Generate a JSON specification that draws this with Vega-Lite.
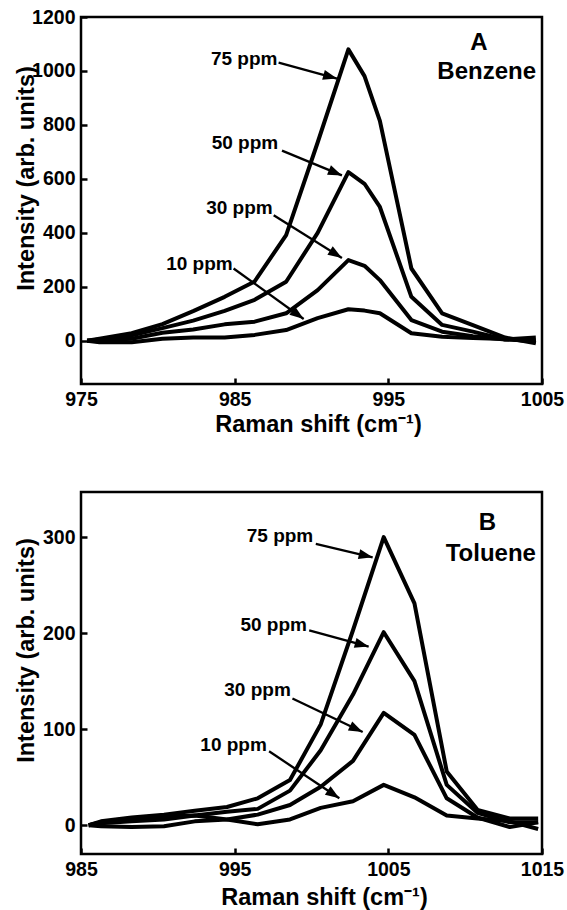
{
  "$schema": "https://vega.github.io/schema/vega-lite/v6.json",
  "background": "white",
  "padding": {"left": 12, "top": 5, "right": 0, "bottom": 0},
  "spacing": 53,
  "config": {
    "view": {"stroke": "black", "strokeWidth": 2.5},
    "font": "Liberation Sans",
    "axis": {
      "domain": false, "grid": false, "ticks": true, "format": "d",
      "tickColor": "black", "tickWidth": 2.5, "tickSize": -6,
      "labelColor": "black", "labelFont": "Liberation Sans", "labelFontSize": 19.5, "labelFontWeight": "bold",
      "titleColor": "black", "titleFont": "Liberation Sans", "titleFontSize": 23.5, "titleFontWeight": "bold"
    },
    "text": {"font": "Liberation Sans", "fontWeight": "bold", "color": "black"}
  },
  "datasets": {
    "benzene": [
      {"shift": 975.4, "i": 0, "conc": "75 ppm"}, {"shift": 976.2, "i": 8, "conc": "75 ppm"}, {"shift": 978.3, "i": 28, "conc": "75 ppm"}, {"shift": 980.3, "i": 62, "conc": "75 ppm"}, {"shift": 982.3, "i": 110, "conc": "75 ppm"}, {"shift": 984.35, "i": 163, "conc": "75 ppm"}, {"shift": 986.3, "i": 220, "conc": "75 ppm"}, {"shift": 988.35, "i": 392, "conc": "75 ppm"}, {"shift": 990.4, "i": 735, "conc": "75 ppm"}, {"shift": 992.4, "i": 1080, "conc": "75 ppm"}, {"shift": 993.45, "i": 981, "conc": "75 ppm"}, {"shift": 994.45, "i": 815, "conc": "75 ppm"}, {"shift": 996.5, "i": 268, "conc": "75 ppm"}, {"shift": 998.5, "i": 102, "conc": "75 ppm"}, {"shift": 1000.5, "i": 58, "conc": "75 ppm"}, {"shift": 1002.6, "i": 12, "conc": "75 ppm"}, {"shift": 1004.6, "i": -9, "conc": "75 ppm"},
      {"shift": 975.4, "i": 0, "conc": "50 ppm"}, {"shift": 976.2, "i": 5, "conc": "50 ppm"}, {"shift": 978.3, "i": 20, "conc": "50 ppm"}, {"shift": 980.3, "i": 47, "conc": "50 ppm"}, {"shift": 982.3, "i": 75, "conc": "50 ppm"}, {"shift": 984.35, "i": 111, "conc": "50 ppm"}, {"shift": 986.3, "i": 152, "conc": "50 ppm"}, {"shift": 988.35, "i": 219, "conc": "50 ppm"}, {"shift": 990.4, "i": 400, "conc": "50 ppm"}, {"shift": 992.4, "i": 625, "conc": "50 ppm"}, {"shift": 993.45, "i": 582, "conc": "50 ppm"}, {"shift": 994.45, "i": 496, "conc": "50 ppm"}, {"shift": 996.5, "i": 163, "conc": "50 ppm"}, {"shift": 998.5, "i": 59, "conc": "50 ppm"}, {"shift": 1000.5, "i": 34, "conc": "50 ppm"}, {"shift": 1002.6, "i": 5, "conc": "50 ppm"}, {"shift": 1004.6, "i": 12, "conc": "50 ppm"},
      {"shift": 975.4, "i": 0, "conc": "30 ppm"}, {"shift": 976.2, "i": 2, "conc": "30 ppm"}, {"shift": 978.3, "i": 8, "conc": "30 ppm"}, {"shift": 980.3, "i": 30, "conc": "30 ppm"}, {"shift": 982.3, "i": 42, "conc": "30 ppm"}, {"shift": 984.35, "i": 61, "conc": "30 ppm"}, {"shift": 986.3, "i": 71, "conc": "30 ppm"}, {"shift": 988.35, "i": 102, "conc": "30 ppm"}, {"shift": 990.4, "i": 188, "conc": "30 ppm"}, {"shift": 992.4, "i": 299, "conc": "30 ppm"}, {"shift": 993.45, "i": 278, "conc": "30 ppm"}, {"shift": 994.45, "i": 225, "conc": "30 ppm"}, {"shift": 996.5, "i": 77, "conc": "30 ppm"}, {"shift": 998.5, "i": 34, "conc": "30 ppm"}, {"shift": 1000.5, "i": 17, "conc": "30 ppm"}, {"shift": 1002.6, "i": 5, "conc": "30 ppm"}, {"shift": 1004.6, "i": 0, "conc": "30 ppm"},
      {"shift": 975.4, "i": 0, "conc": "10 ppm"}, {"shift": 976.2, "i": -5, "conc": "10 ppm"}, {"shift": 978.3, "i": -5, "conc": "10 ppm"}, {"shift": 980.3, "i": 8, "conc": "10 ppm"}, {"shift": 982.3, "i": 12, "conc": "10 ppm"}, {"shift": 984.35, "i": 12, "conc": "10 ppm"}, {"shift": 986.3, "i": 22, "conc": "10 ppm"}, {"shift": 988.35, "i": 40, "conc": "10 ppm"}, {"shift": 990.4, "i": 84, "conc": "10 ppm"}, {"shift": 992.4, "i": 117, "conc": "10 ppm"}, {"shift": 993.45, "i": 112, "conc": "10 ppm"}, {"shift": 994.45, "i": 102, "conc": "10 ppm"}, {"shift": 996.5, "i": 28, "conc": "10 ppm"}, {"shift": 998.5, "i": 15, "conc": "10 ppm"}, {"shift": 1000.5, "i": 10, "conc": "10 ppm"}, {"shift": 1002.6, "i": 7, "conc": "10 ppm"}, {"shift": 1004.6, "i": -3, "conc": "10 ppm"}
    ],
    "toluene": [
      {"shift": 985.5, "i": 0, "conc": "75 ppm"}, {"shift": 986.3, "i": 4, "conc": "75 ppm"}, {"shift": 988.3, "i": 8, "conc": "75 ppm"}, {"shift": 990.4, "i": 11, "conc": "75 ppm"}, {"shift": 992.4, "i": 15, "conc": "75 ppm"}, {"shift": 994.5, "i": 19, "conc": "75 ppm"}, {"shift": 996.5, "i": 28, "conc": "75 ppm"}, {"shift": 998.6, "i": 47, "conc": "75 ppm"}, {"shift": 1000.6, "i": 105, "conc": "75 ppm"}, {"shift": 1002.7, "i": 203, "conc": "75 ppm"}, {"shift": 1004.7, "i": 300, "conc": "75 ppm"}, {"shift": 1006.7, "i": 231, "conc": "75 ppm"}, {"shift": 1008.8, "i": 56, "conc": "75 ppm"}, {"shift": 1010.8, "i": 16, "conc": "75 ppm"}, {"shift": 1012.9, "i": 7, "conc": "75 ppm"}, {"shift": 1014.75, "i": 7, "conc": "75 ppm"},
      {"shift": 985.5, "i": 0, "conc": "50 ppm"}, {"shift": 986.3, "i": 2, "conc": "50 ppm"}, {"shift": 988.3, "i": 4, "conc": "50 ppm"}, {"shift": 990.4, "i": 6, "conc": "50 ppm"}, {"shift": 992.4, "i": 10, "conc": "50 ppm"}, {"shift": 994.5, "i": 14, "conc": "50 ppm"}, {"shift": 996.5, "i": 17, "conc": "50 ppm"}, {"shift": 998.6, "i": 36, "conc": "50 ppm"}, {"shift": 1000.6, "i": 78, "conc": "50 ppm"}, {"shift": 1002.7, "i": 136, "conc": "50 ppm"}, {"shift": 1004.7, "i": 201, "conc": "50 ppm"}, {"shift": 1006.7, "i": 150, "conc": "50 ppm"}, {"shift": 1008.8, "i": 42, "conc": "50 ppm"}, {"shift": 1010.8, "i": 13, "conc": "50 ppm"}, {"shift": 1012.9, "i": 3, "conc": "50 ppm"}, {"shift": 1014.75, "i": 3, "conc": "50 ppm"},
      {"shift": 985.5, "i": 0, "conc": "30 ppm"}, {"shift": 986.3, "i": -1, "conc": "30 ppm"}, {"shift": 988.3, "i": -2, "conc": "30 ppm"}, {"shift": 990.4, "i": -1, "conc": "30 ppm"}, {"shift": 992.4, "i": 4, "conc": "30 ppm"}, {"shift": 994.5, "i": 6, "conc": "30 ppm"}, {"shift": 996.5, "i": 11, "conc": "30 ppm"}, {"shift": 998.6, "i": 21, "conc": "30 ppm"}, {"shift": 1000.6, "i": 40, "conc": "30 ppm"}, {"shift": 1002.7, "i": 67, "conc": "30 ppm"}, {"shift": 1004.7, "i": 117, "conc": "30 ppm"}, {"shift": 1006.7, "i": 94, "conc": "30 ppm"}, {"shift": 1008.8, "i": 28, "conc": "30 ppm"}, {"shift": 1010.8, "i": 8, "conc": "30 ppm"}, {"shift": 1012.9, "i": -2, "conc": "30 ppm"}, {"shift": 1014.75, "i": 3, "conc": "30 ppm"},
      {"shift": 985.5, "i": 0, "conc": "10 ppm"}, {"shift": 986.3, "i": 3, "conc": "10 ppm"}, {"shift": 988.3, "i": 6, "conc": "10 ppm"}, {"shift": 990.4, "i": 9, "conc": "10 ppm"}, {"shift": 992.4, "i": 10, "conc": "10 ppm"}, {"shift": 994.5, "i": 6, "conc": "10 ppm"}, {"shift": 996.5, "i": 1, "conc": "10 ppm"}, {"shift": 998.6, "i": 6, "conc": "10 ppm"}, {"shift": 1000.6, "i": 18, "conc": "10 ppm"}, {"shift": 1002.7, "i": 25, "conc": "10 ppm"}, {"shift": 1004.7, "i": 42, "conc": "10 ppm"}, {"shift": 1006.7, "i": 29, "conc": "10 ppm"}, {"shift": 1008.8, "i": 10, "conc": "10 ppm"}, {"shift": 1010.8, "i": 7, "conc": "10 ppm"}, {"shift": 1012.9, "i": 4, "conc": "10 ppm"}, {"shift": 1014.75, "i": -4, "conc": "10 ppm"}
    ],
    "annA": [
      {"conc": "75 ppm", "tx": 985.62, "ty": 1046, "x1": 987.86, "y1": 1031, "x2": 991.66, "y2": 972},
      {"conc": "50 ppm", "tx": 985.67, "ty": 732, "x1": 988.08, "y1": 705, "x2": 991.98, "y2": 613},
      {"conc": "30 ppm", "tx": 985.31, "ty": 491, "x1": 987.54, "y1": 465, "x2": 991.98, "y2": 307},
      {"conc": "10 ppm", "tx": 982.71, "ty": 283, "x1": 984.93, "y1": 268, "x2": 989.49, "y2": 81}
    ],
    "annB": [
      {"conc": "75 ppm", "tx": 997.95, "ty": 301, "x1": 1000.28, "y1": 293, "x2": 1003.98, "y2": 279},
      {"conc": "50 ppm", "tx": 997.54, "ty": 209, "x1": 999.85, "y1": 203, "x2": 1003.72, "y2": 186},
      {"conc": "30 ppm", "tx": 996.49, "ty": 141, "x1": 998.76, "y1": 132, "x2": 1003.33, "y2": 97},
      {"conc": "10 ppm", "tx": 994.93, "ty": 83, "x1": 997.24, "y1": 77, "x2": 1001.81, "y2": 28}
    ],
    "tagA": [
      {"label": "A", "tx": 1000.9, "ty": 1104},
      {"label": "Benzene", "tx": 1001.4, "ty": 995}
    ],
    "tagB": [
      {"label": "B", "tx": 1011.45, "ty": 315},
      {"label": "Toluene", "tx": 1011.67, "ty": 282}
    ]
  },
  "vconcat": [
    {
      "width": 461,
      "height": 367,
      "layer": [
        {
          "data": {"name": "benzene"},
          "mark": {"type": "line", "color": "black", "strokeWidth": 4, "strokeJoin": "round"},
          "encoding": {
            "x": {"field": "shift", "type": "quantitative",
              "scale": {"domain": [975, 1005], "nice": false, "zero": false},
              "axis": {"values": [975, 985, 995, 1005], "labelFlush": false, "labelPadding": 12,
                "title": "Raman shift (cm⁻¹)", "titleX": 237, "titleY": 47, "titleBaseline": "alphabetic"}},
            "y": {"field": "i", "type": "quantitative",
              "scale": {"domain": [-160, 1200], "nice": false, "zero": false},
              "axis": {"values": [0, 200, 400, 600, 800, 1000, 1200], "labelPadding": 12, "labelFlush": false,
                "labelExpr": "datum.value == 0 ? '0\u2002' : datum.label",
                "title": "Intensity (arb. units)", "titleAngle": 270, "titleX": -48, "titleY": 161, "titleBaseline": "alphabetic", "titleAlign": "center"}},
            "detail": {"field": "conc"}
          }
        },
        {
          "data": {"name": "annA"},
          "mark": {"type": "rule", "color": "black", "strokeWidth": 2.3},
          "encoding": {
            "x": {"field": "x1", "type": "quantitative"},
            "y": {"field": "y1", "type": "quantitative"},
            "x2": {"field": "x2"},
            "y2": {"field": "y2"}
          }
        },
        {
          "data": {"name": "annA"},
          "transform": [{"calculate": "atan2((datum.y1 - datum.y2) * 0.271, (datum.x2 - datum.x1) * 15.37) * 180 / PI", "as": "ang"}],
          "mark": {"type": "point", "shape": "M0,0L-1,-0.36L-1,0.36Z", "filled": true, "color": "black", "opacity": 1, "size": 784, "strokeWidth": 0},
          "encoding": {
            "x": {"field": "x2", "type": "quantitative"},
            "y": {"field": "y2", "type": "quantitative"},
            "angle": {"field": "ang", "type": "quantitative", "scale": null}
          }
        },
        {
          "data": {"name": "annA"},
          "mark": {"type": "text", "fontSize": 19, "align": "center", "baseline": "middle"},
          "encoding": {
            "x": {"field": "tx", "type": "quantitative"},
            "y": {"field": "ty", "type": "quantitative"},
            "text": {"field": "conc"}
          }
        },
        {
          "data": {"name": "tagA"},
          "mark": {"type": "text", "fontSize": 24, "align": "center", "baseline": "middle"},
          "encoding": {
            "x": {"field": "tx", "type": "quantitative"},
            "y": {"field": "ty", "type": "quantitative"},
            "text": {"field": "label"}
          }
        }
      ]
    },
    {
      "width": 461,
      "height": 362,
      "layer": [
        {
          "data": {"name": "toluene"},
          "mark": {"type": "line", "color": "black", "strokeWidth": 4, "strokeJoin": "round"},
          "encoding": {
            "x": {"field": "shift", "type": "quantitative",
              "scale": {"domain": [985, 1015], "nice": false, "zero": false},
              "axis": {"values": [985, 995, 1005, 1015], "labelFlush": false, "labelPadding": 12,
                "title": "Raman shift (cm⁻¹)", "titleX": 243, "titleY": 50, "titleBaseline": "alphabetic"}},
            "y": {"field": "i", "type": "quantitative",
              "scale": {"domain": [-30, 347], "nice": false, "zero": false},
              "axis": {"values": [0, 100, 200, 300], "labelPadding": 12, "labelFlush": false,
                "labelExpr": "datum.value == 0 ? '0\u2002' : datum.label",
                "title": "Intensity (arb. units)", "titleAngle": 270, "titleX": -48, "titleY": 158, "titleBaseline": "alphabetic", "titleAlign": "center"}},
            "detail": {"field": "conc"}
          }
        },
        {
          "data": {"name": "annB"},
          "mark": {"type": "rule", "color": "black", "strokeWidth": 2.3},
          "encoding": {
            "x": {"field": "x1", "type": "quantitative"},
            "y": {"field": "y1", "type": "quantitative"},
            "x2": {"field": "x2"},
            "y2": {"field": "y2"}
          }
        },
        {
          "data": {"name": "annB"},
          "transform": [{"calculate": "atan2((datum.y1 - datum.y2) * 0.963, (datum.x2 - datum.x1) * 15.33) * 180 / PI", "as": "ang"}],
          "mark": {"type": "point", "shape": "M0,0L-1,-0.36L-1,0.36Z", "filled": true, "color": "black", "opacity": 1, "size": 784, "strokeWidth": 0},
          "encoding": {
            "x": {"field": "x2", "type": "quantitative"},
            "y": {"field": "y2", "type": "quantitative"},
            "angle": {"field": "ang", "type": "quantitative", "scale": null}
          }
        },
        {
          "data": {"name": "annB"},
          "mark": {"type": "text", "fontSize": 19, "align": "center", "baseline": "middle"},
          "encoding": {
            "x": {"field": "tx", "type": "quantitative"},
            "y": {"field": "ty", "type": "quantitative"},
            "text": {"field": "conc"}
          }
        },
        {
          "data": {"name": "tagB"},
          "mark": {"type": "text", "fontSize": 24, "align": "center", "baseline": "middle"},
          "encoding": {
            "x": {"field": "tx", "type": "quantitative"},
            "y": {"field": "ty", "type": "quantitative"},
            "text": {"field": "label"}
          }
        }
      ]
    }
  ]
}
